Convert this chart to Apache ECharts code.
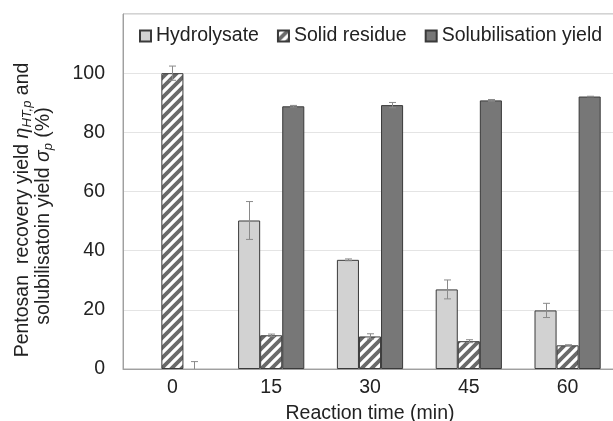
<!DOCTYPE html>
<html><head><meta charset="utf-8">
<script src="https://cdn.jsdelivr.net/npm/echarts@6/dist/echarts.min.js"></script>
<style>html,body{margin:0;padding:0;background:#fff}#c{width:613px;height:421px}</style>
</head><body><div id="c"></div>
<script>
const categories = ['0', '15', '30', '45', '60'];
const seriesNames = ['Hydrolysate', 'Solid residue', 'Solubilisation yield'];
const hydrolysate = [0, 50.2, 36.9, 26.9, 19.8];
const hydrolysateErr = [0, 6.4, 0.3, 3.2, 2.4];
const solidResidue = [100, 11.4, 11.0, 9.4, 8.0];
const solidResidueErr = [2.4, 0.4, 0.9, 0.5, 0.2];
const solubilisation = [0, 88.8, 89.2, 90.8, 92.1];
const solubilisationErr = [2.5, 0.3, 0.9, 0.3, 0.1];
const yMin = 0, yMax = 120, yStep = 20;

const FONT = "'Liberation Sans', Arial, sans-serif";
const FS = 19.5;
const BAR_CAT_GAP = 0.33;

function hatch() {
  const c = document.createElement('canvas');
  c.width = 10; c.height = 10;
  const g = c.getContext('2d');
  g.fillStyle = '#ffffff'; g.fillRect(0, 0, 10, 10);
  g.strokeStyle = '#6a6a6a'; g.lineWidth = 3.8;
  g.beginPath();
  g.moveTo(-3, 13); g.lineTo(13, -3);
  g.moveTo(-3, 3); g.lineTo(3, -3);
  g.moveTo(7, 13); g.lineTo(13, 7);
  g.stroke();
  return c;
}
const hatchPattern = { image: hatch(), repeat: 'repeat' };

function barData(vals) {
  return vals.map(v => (v === 0 ? { value: 0, itemStyle: { borderWidth: 0 } } : v));
}

function errSeries(vals, errs, idx) {
  return {
    type: 'custom',
    z: 10,
    silent: true,
    encode: { x: 0, y: 1 },
    data: vals.map((v, i) => [i, v, errs[i]]),
    renderItem(params, api) {
      const ci = api.value(0), v = api.value(1), e = api.value(2);
      if (!e) return null;
      const band = api.size([1, 0])[0];
      const bw = band * (1 - BAR_CAT_GAP) / 3;
      const off = (idx - 1) * bw;
      const hiV = v + e, loV = Math.max(0, v - e);
      const top = api.coord([ci, hiV]);
      const lo = api.coord([ci, loV]);
      const x = Math.round(top[0] + off) + 0.5;
      const cap = 3.5;
      const st = { stroke: '#8a8a8a', lineWidth: 1 };
      const ch = [
        { type: 'line', shape: { x1: x, y1: top[1], x2: x, y2: lo[1] }, style: st },
        { type: 'line', shape: { x1: x - cap, y1: top[1], x2: x + cap, y2: top[1] }, style: st }
      ];
      if (v - e > 0) ch.push({ type: 'line', shape: { x1: x - cap, y1: lo[1], x2: x + cap, y2: lo[1] }, style: st });
      return { type: 'group', children: ch };
    }
  };
}

const chart = echarts.init(document.getElementById('c'), null, { renderer: 'canvas' });
chart.setOption({
  animation: false,
  textStyle: { fontFamily: FONT },
  grid: { left: 123, top: 14, width: 494, height: 355, show: true, borderColor: '#a6a6a6', borderWidth: 1,
    containLabel: false, outerBoundsMode: 'none' },
  legend: {
    data: seriesNames,
    left: 139, top: 26, padding: 0,
    itemWidth: 11, itemHeight: 11, itemGap: 18,
    icon: 'rect',
    textStyle: { fontSize: FS, color: '#222', fontFamily: FONT }
  },
  xAxis: {
    type: 'category', data: categories,
    axisTick: { show: false },
    axisLine: { lineStyle: { color: '#a0a0a0', width: 1 } },
    axisLabel: { fontSize: FS, color: '#222', margin: 9, fontFamily: FONT },
    name: 'Reaction time (min)', nameLocation: 'middle', nameGap: 35,
    nameTextStyle: { fontSize: FS, color: '#222', fontFamily: FONT }
  },
  yAxis: {
    type: 'value', min: yMin, max: yMax, interval: yStep,
    axisLine: { show: true, lineStyle: { color: '#a0a0a0', width: 1 } },
    axisTick: { show: false },
    axisLabel: { fontSize: FS, color: '#222', margin: 18, fontFamily: FONT,
      formatter: v => (v >= yMax ? '' : String(v)) },
    splitLine: { lineStyle: { color: '#e4e4e4', width: 1 } }
  },
  series: [
    { name: seriesNames[0], type: 'bar', data: barData(hydrolysate), barGap: '0%', barCategoryGap: '33%',
      itemStyle: { color: '#d2d2d2', borderColor: '#3a3a3a', borderWidth: 1 } },
    { name: seriesNames[1], type: 'bar', data: barData(solidResidue), barGap: '0%', barCategoryGap: '33%',
      itemStyle: { color: hatchPattern, borderColor: '#3a3a3a', borderWidth: 1 } },
    { name: seriesNames[2], type: 'bar', data: barData(solubilisation), barGap: '0%', barCategoryGap: '33%',
      itemStyle: { color: '#777777', borderColor: '#3a3a3a', borderWidth: 1 } },
    errSeries(hydrolysate, hydrolysateErr, 0),
    errSeries(solidResidue, solidResidueErr, 1),
    errSeries(solubilisation, solubilisationErr, 2)
  ],
  graphic: [
    {
      type: 'text', x: 23, y: 210, rotation: Math.PI / 2,
      style: {
        text: 'Pentosan  recovery yield {it|η}{sub|HT,p} and',
        font: FS + "px " + FONT, fill: '#222', align: 'center', verticalAlign: 'middle',
        rich: {
          it: { fontStyle: 'italic', fontSize: FS, fontFamily: FONT, lineHeight: 22 },
          sub: { fontStyle: 'italic', fontSize: 13, fontFamily: FONT, lineHeight: 13, verticalAlign: 'bottom' }
        }
      }
    },
    {
      type: 'text', x: 44, y: 216, rotation: Math.PI / 2,
      style: {
        text: 'solubilisatoin yield {it|σ}{sub|p} (%)',
        font: FS + "px " + FONT, fill: '#222', align: 'center', verticalAlign: 'middle',
        rich: {
          it: { fontStyle: 'italic', fontSize: FS, fontFamily: FONT, lineHeight: 22 },
          sub: { fontStyle: 'italic', fontSize: 13, fontFamily: FONT, lineHeight: 13, verticalAlign: 'bottom' }
        }
      }
    }
  ]
});
</script></body></html>
